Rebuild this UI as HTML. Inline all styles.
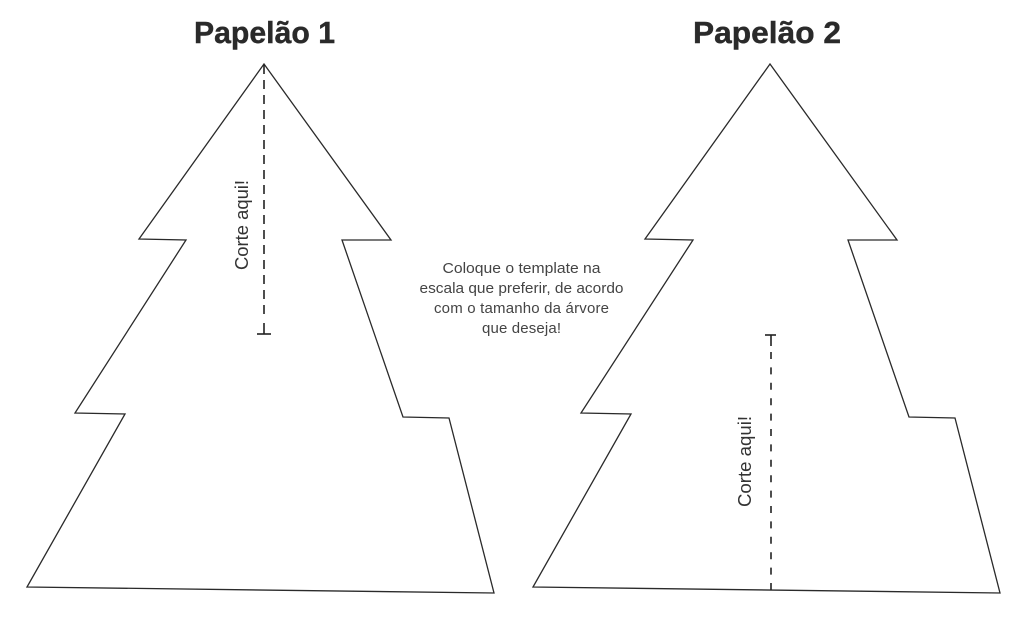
<!DOCTYPE html>
<html>
<head>
<meta charset="utf-8">
<style>
html,body{margin:0;padding:0;background:#fff;}
svg{display:block;}
</style>
</head>
<body>
<svg width="1024" height="621" viewBox="0 0 1024 621" xmlns="http://www.w3.org/2000/svg">
<rect width="1024" height="621" fill="#fff"/>
<!-- Titles -->
<text x="264.5" y="43" text-anchor="middle" font-family="Liberation Sans, sans-serif" font-weight="bold" font-size="31" fill="#2a2a2a" stroke="#2a2a2a" stroke-width="0.4" textLength="141" lengthAdjust="spacingAndGlyphs">Papelão 1</text>
<text x="767" y="43" text-anchor="middle" font-family="Liberation Sans, sans-serif" font-weight="bold" font-size="31" fill="#2a2a2a" stroke="#2a2a2a" stroke-width="0.4" textLength="148" lengthAdjust="spacingAndGlyphs">Papelão 2</text>

<!-- Tree 1 -->
<polygon points="264,64 139,239 186,240 75,413 125,414 27,587 494,593 449,418 403,417 342,240 391,240" fill="none" stroke="#2a2a2a" stroke-width="1.3" stroke-linejoin="miter"/>
<line x1="264" y1="65" x2="264" y2="316" stroke="#222" stroke-width="1.6" stroke-dasharray="9 6"/>
<line x1="264" y1="323" x2="264" y2="334" stroke="#222" stroke-width="1.6"/>
<line x1="257" y1="334" x2="271" y2="334" stroke="#222" stroke-width="1.6"/>
<text transform="translate(248,225) rotate(-90)" text-anchor="middle" font-family="Liberation Sans, sans-serif" font-size="18.5" fill="#333" textLength="90" lengthAdjust="spacingAndGlyphs">Corte aqui!</text>

<!-- Tree 2 -->
<polygon points="770,64 645,239 693,240 581,413 631,414 533,587 1000,593 955,418 909,417 848,240 897,240" fill="none" stroke="#2a2a2a" stroke-width="1.3" stroke-linejoin="miter"/>
<line x1="765" y1="335" x2="776" y2="335" stroke="#222" stroke-width="1.6"/>
<line x1="771" y1="335" x2="771" y2="346" stroke="#222" stroke-width="1.6"/>
<line x1="771" y1="352" x2="771" y2="590" stroke="#222" stroke-width="1.6" stroke-dasharray="7 8.4"/>
<text transform="translate(751,461.5) rotate(-90)" text-anchor="middle" font-family="Liberation Sans, sans-serif" font-size="18.5" fill="#333" textLength="91" lengthAdjust="spacingAndGlyphs">Corte aqui!</text>

<!-- Middle note -->
<g font-family="Liberation Sans, sans-serif" font-size="15" fill="#444" text-anchor="middle">
<text x="521.5" y="273" textLength="158" lengthAdjust="spacingAndGlyphs">Coloque o template na</text>
<text x="521.5" y="293" textLength="204" lengthAdjust="spacingAndGlyphs">escala que preferir, de acordo</text>
<text x="521.5" y="313" textLength="175">com o tamanho da árvore</text>
<text x="521.5" y="333" textLength="79">que deseja!</text>
</g>
</svg>
</body>
</html>
